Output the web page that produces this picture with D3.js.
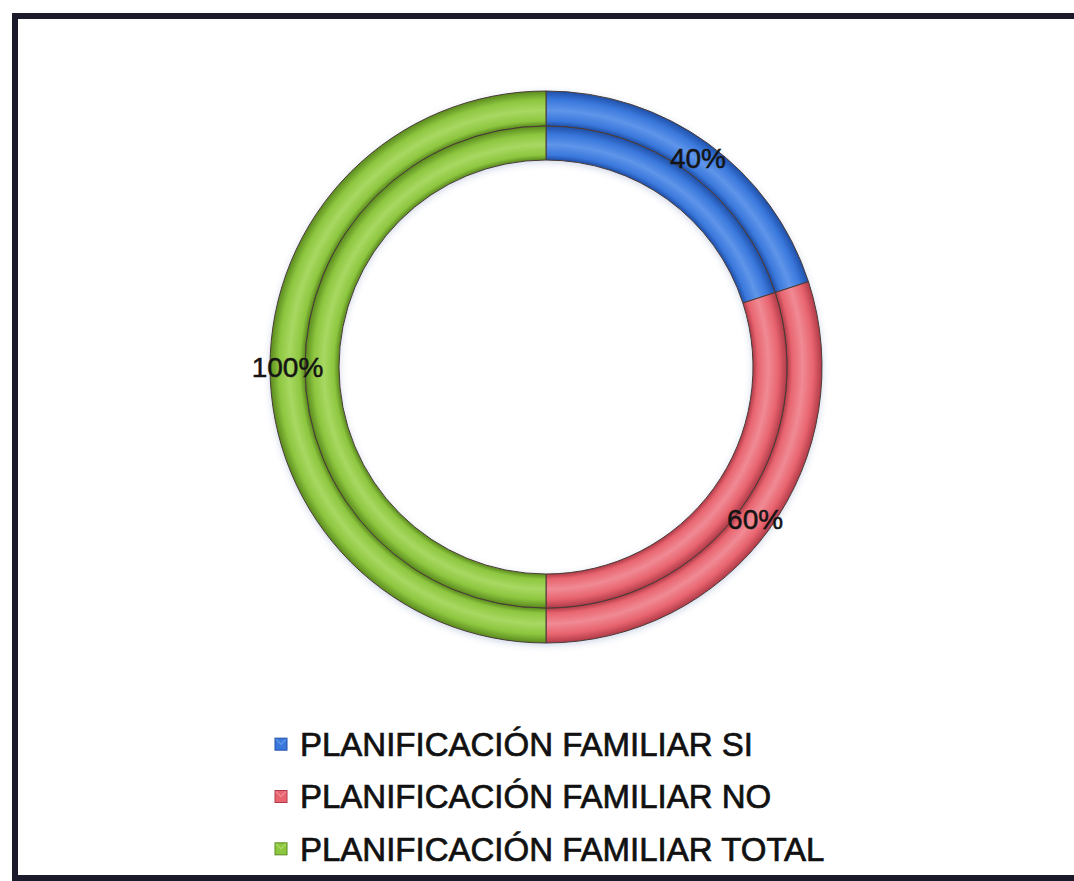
<!DOCTYPE html>
<html lang="es">
<head>
  <meta charset="UTF-8" />
  <title>Planificación familiar</title>
  <style>
    body { margin: 0; background: #fff; }
    svg { display: block; }
    .label { font-family: Arial, "Liberation Sans", sans-serif; font-size: 28px; fill: #141414; stroke: #141414; stroke-width: 0.5px; }
    .legend text { font-family: Arial, "Liberation Sans", sans-serif; font-size: 33px; fill: #111; stroke: #111; stroke-width: 0.7px; }
  </style>
</head>
<body>
  <script src="https://d3js.org/d3.v7.min.js"></script>
  <script>
    // data
    const categories = ["PLANIFICACIÓN FAMILIAR SI", "PLANIFICACIÓN FAMILIAR NO", "PLANIFICACIÓN FAMILIAR TOTAL"];
    const outerValues = [40, 60, 100];
    const innerValues = [40, 60, 100];
    const valueLabels = ["40%", "60%", "100%"];
    const colors = ["#3a78dc", "#e8646f", "#8dc63f"];
    const darkColors = ["#1f4fa8", "#b03a48", "#5a8a1e"];
    const lightColors = ["#5f95ea", "#f08a94", "#a8d862"];

    const width = 1074, height = 881;
    const cx = 546, cy = 367;
    const rings = [
      { name: "outer", values: outerValues, r0: 241, r1: 276 },
      { name: "inner", values: innerValues, r0: 207, r1: 241 }
    ];

    const svg = d3.select("body").append("svg")
      .attr("width", width)
      .attr("height", height);

    // scanned frame
    svg.append("rect")
      .attr("x", 15).attr("y", 16)
      .attr("width", 1080).attr("height", 862)
      .attr("fill", "none")
      .attr("stroke", "#1a1a2a")
      .attr("stroke-width", 6);

    const defs = svg.append("defs");

    // tube-like gradient for every ring and colour
    rings.forEach(ring => {
      colors.forEach((c, i) => {
        const g = defs.append("radialGradient")
          .attr("id", `g-${ring.name}-${i}`)
          .attr("gradientUnits", "userSpaceOnUse")
          .attr("cx", 0).attr("cy", 0)
          .attr("r", ring.r1);
        const t0 = ring.r0 / ring.r1;
        g.append("stop").attr("offset", t0).attr("stop-color", darkColors[i]);
        g.append("stop").attr("offset", t0 + (1 - t0) * 0.15).attr("stop-color", c);
        g.append("stop").attr("offset", t0 + (1 - t0) * 0.45).attr("stop-color", lightColors[i]);
        g.append("stop").attr("offset", t0 + (1 - t0) * 0.75).attr("stop-color", c);
        g.append("stop").attr("offset", 0.95).attr("stop-color", c);
        g.append("stop").attr("offset", 1).attr("stop-color", darkColors[i]);
      });
    });

    // soft shadow
    const shadow = defs.append("filter").attr("id", "shadow")
      .attr("x", "-10%").attr("y", "-10%").attr("width", "120%").attr("height", "120%");
    shadow.append("feDropShadow")
      .attr("dx", 0).attr("dy", 2).attr("stdDeviation", 3)
      .attr("flood-color", "#3a5a9a").attr("flood-opacity", 0.25);

    const pie = d3.pie().sort(null).value(d => d);

    const chart = svg.append("g")
      .attr("transform", `translate(${cx},${cy})`)
      .attr("filter", "url(#shadow)");

    rings.forEach(ring => {
      const arc = d3.arc().innerRadius(ring.r0).outerRadius(ring.r1);
      chart.append("g")
        .attr("class", "ring-" + ring.name)
        .selectAll("path")
        .data(pie(ring.values))
        .join("path")
        .attr("d", arc)
        .attr("fill", (d, i) => `url(#g-${ring.name}-${i})`)
        .attr("stroke", "#4a3b35")
        .attr("stroke-width", 1);
    });

    // labels on the outer ring
    const labelArc = d3.arc().innerRadius(241).outerRadius(276);
    svg.append("g")
      .attr("transform", `translate(${cx},${cy})`)
      .selectAll("text")
      .data(pie(outerValues))
      .join("text")
      .attr("class", "label")
      .attr("transform", d => `translate(${labelArc.centroid(d)})`)
      .attr("text-anchor", "middle")
      .attr("dy", "0.36em")
      .text((d, i) => valueLabels[i]);

    // legend
    const y = d3.scaleBand().domain(categories).range([718, 875]).padding(0);
    const legend = svg.append("g").attr("class", "legend")
      .selectAll("g")
      .data(categories)
      .join("g")
      .attr("transform", d => `translate(275,${y(d) + y.bandwidth() / 2})`);

    legend.append("rect")
      .attr("x", 0).attr("y", -6)
      .attr("width", 12).attr("height", 12)
      .attr("fill", (d, i) => colors[i])
      .attr("stroke", (d, i) => darkColors[i])
      .attr("stroke-width", 1);

    legend.append("path")
      .attr("d", "M1,-5 L6,0 L11,-5")
      .attr("fill", "none")
      .attr("stroke", (d, i) => lightColors[i])
      .attr("stroke-width", 1.5);

    legend.append("text")
      .attr("x", 25)
      .attr("dy", "0.36em")
      .text(d => d);
  </script>
</body>
</html>
